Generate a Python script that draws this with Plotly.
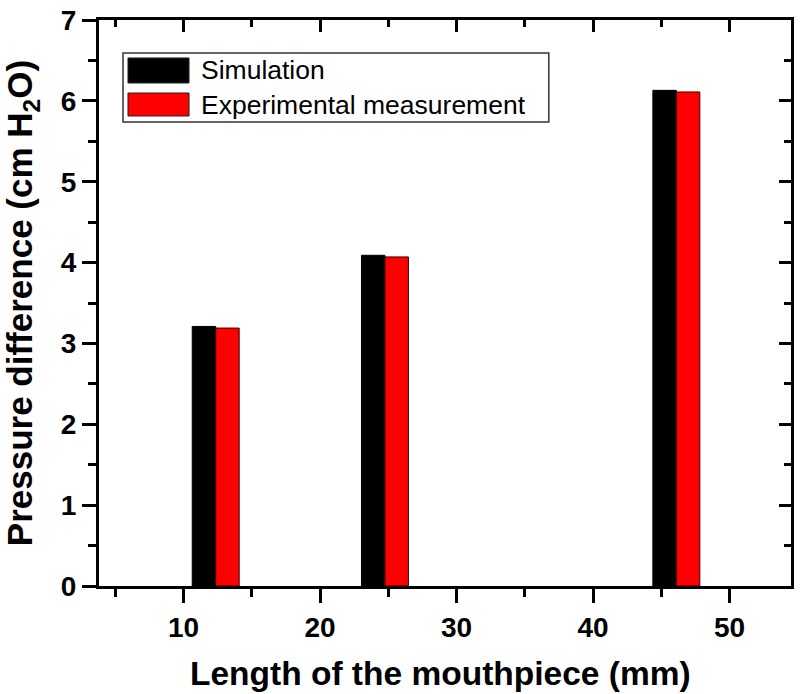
import plotly.graph_objects as go

# Data
lengths = [12.35, 24.75, 46.1]         # mouthpiece length (mm), group centres
simulation = [3.21, 4.09, 6.13]        # cm H2O
experimental = [3.19, 4.07, 6.11]      # cm H2O
series_names = ["Simulation", "Experimental measurement"]
x_ticks = [10, 20, 30, 40, 50]
y_ticks = [0, 1, 2, 3, 4, 5, 6, 7]

FONT = "Liberation Sans, Arial, sans-serif"
BAR_W = 1.72

fig = go.Figure()
fig.add_trace(go.Bar(
    x=lengths, y=simulation, name=series_names[0],
    width=BAR_W, offset=-BAR_W,
    marker=dict(color="#000000", line=dict(color="#000000", width=1)),
    showlegend=False,
))
fig.add_trace(go.Bar(
    x=lengths, y=experimental, name=series_names[1],
    width=BAR_W, offset=0,
    marker=dict(color="#ff0000", line=dict(color="#3a0000", width=1)),
    showlegend=False,
))
# empty trace to activate the mirrored top/right axes
fig.add_trace(go.Scatter(x=[None], y=[None], xaxis="x2", yaxis="y2",
                         showlegend=False, hoverinfo="skip"))

x_range = [3.8, 54.5]
y_range = [0, 7]

tickfont = dict(family=FONT, size=28, color="#000000", weight="bold")
common = dict(showgrid=False, zeroline=False, automargin=False,
              showline=True, linewidth=3, linecolor="black", tickcolor="black")
fig.update_layout(
    width=800, height=694,
    margin=dict(l=99, r=9, t=20, b=108),
    paper_bgcolor="white", plot_bgcolor="white",
    barmode="overlay",
    xaxis=dict(
        range=x_range, tickmode="array", tickvals=x_ticks,
        ticks="outside", ticklen=14, tickwidth=2.5,
        minor=dict(ticks="outside", ticklen=8, tickwidth=2.5, dtick=5, tick0=0, tickcolor="black"),
        tickfont=tickfont, **common,
    ),
    yaxis=dict(
        range=y_range, tickmode="array", tickvals=y_ticks,
        ticks="outside", ticklen=14, tickwidth=2.5,
        minor=dict(ticks="outside", ticklen=8, tickwidth=2.5, dtick=0.5, tick0=0, tickcolor="black"),
        tickfont=tickfont, **common,
    ),
    xaxis2=dict(
        overlaying="x", side="top", range=x_range, tickmode="array", tickvals=x_ticks,
        ticks="inside", ticklen=12, tickwidth=2.5,
        minor=dict(ticks="inside", ticklen=7, tickwidth=2.5, dtick=5, tick0=0, tickcolor="black"),
        showticklabels=False, **common,
    ),
    yaxis2=dict(
        overlaying="y", side="right", range=y_range, tickmode="array", tickvals=y_ticks,
        ticks="inside", ticklen=12, tickwidth=2.5,
        minor=dict(ticks="inside", ticklen=7, tickwidth=2.5, dtick=0.5, tick0=0, tickcolor="black"),
        showticklabels=False, **common,
    ),
)

# Legend box drawn to match the original's wide swatches
colors = ["#000000", "#ff0000"]
swatch_y = [(0.8887, 0.9329), (0.8304, 0.8710)]
shapes = [dict(type="rect", xref="paper", yref="paper", x0=0.0347, x1=0.650,
               y0=0.8198, y1=0.9417, line=dict(color="#333333", width=1.5),
               fillcolor="white", layer="above")]
annotations = []
for name, col, (y0, y1) in zip(series_names, colors, swatch_y):
    shapes.append(dict(type="rect", xref="paper", yref="paper", x0=0.0419, x1=0.1301,
                       y0=y0, y1=y1, fillcolor=col, line=dict(color="#222222", width=1),
                       layer="above"))
    annotations.append(dict(xref="paper", yref="paper", x=0.1445, y=(y0 + y1) / 2,
                            xanchor="left", yanchor="middle", showarrow=False,
                            text=name, font=dict(family=FONT, size=26.5, color="#000000")))

# Axis titles
annotations.append(dict(xref="paper", yref="paper", x=0.493, y=-0.155,
                        xanchor="center", yanchor="middle", showarrow=False,
                        text="<b>Length of the mouthpiece (mm)</b>",
                        font=dict(family=FONT, size=33.5, color="#000000")))
annotations.append(dict(xref="paper", yref="paper", x=-0.111, y=0.5,
                        xanchor="center", yanchor="middle", showarrow=False, textangle=-90,
                        text="<b>Pressure difference (cm H<sub>2</sub>O)</b>",
                        font=dict(family=FONT, size=35, color="#000000")))
fig.update_layout(shapes=shapes, annotations=annotations)

fig.write_html("out.html", config={"displayModeBar": False},
               post_script="document.body.style.margin='0';document.body.style.overflow='hidden';")
